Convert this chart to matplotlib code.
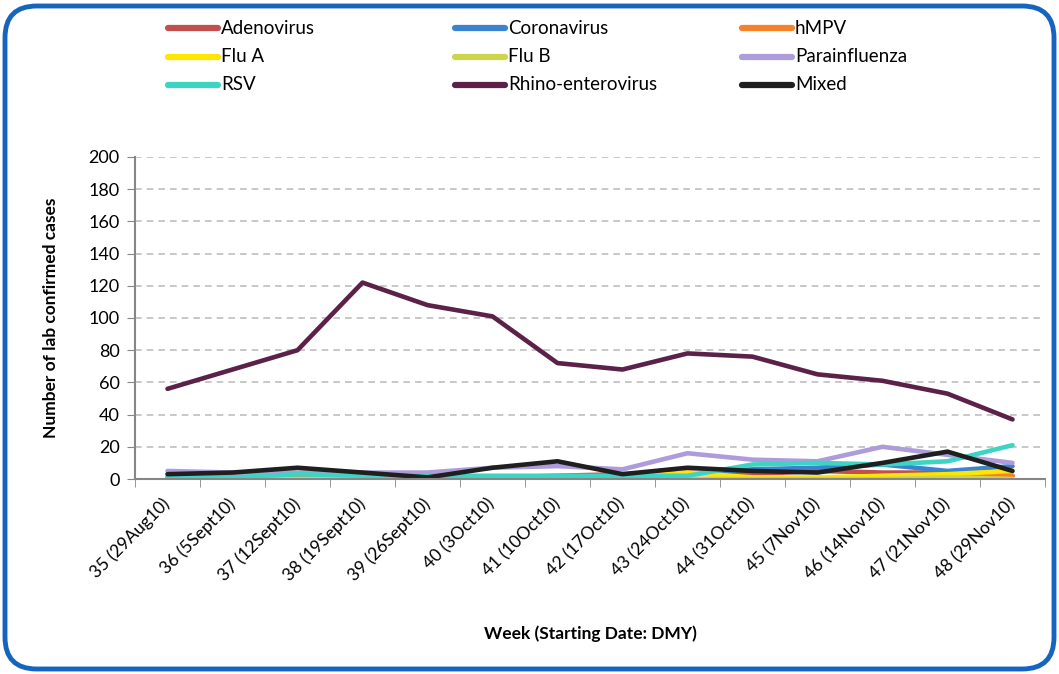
import matplotlib.pyplot as plt
import numpy as np
from matplotlib.patches import FancyBboxPatch
from matplotlib.lines import Line2D

plt.rcParams['font.family'] = ['Lato', 'DejaVu Sans']

weeks = ["35 (29Aug10)", "36 (5Sept10)", "37 (12Sept10)", "38 (19Sept10)",
         "39 (26Sept10)", "40 (3Oct10)", "41 (10Oct10)", "42 (17Oct10)",
         "43 (24Oct10)", "44 (31Oct10)", "45 (7Nov10)", "46 (14Nov10)",
         "47 (21Nov10)", "48 (29Nov10)"]

adenovirus = [1, 1, 1, 1, 0, 1, 2, 3, 4, 3, 5, 4, 4, 2]
coronavirus = [0, 0, 0, 0, 0, 0, 1, 1, 3, 6, 7, 9, 5, 8]
hmpv = [0, 0, 0, 0, 0, 0, 0, 0, 0, 0, 0, 0, 1, 2]
flu_a = [0, 0, 0, 0, 0, 0, 0, 1, 4, 1, 1, 2, 3, 5]
flu_b = [0, 0, 0, 0, 0, 0, 0, 0, 0, 0, 0, 0, 1, 0]
parainfluenza = [5, 4, 4, 4, 4, 7, 8, 6, 16, 12, 11, 20, 15, 10]
rsv = [1, 1, 3, 2, 2, 2, 2, 2, 2, 9, 10, 9, 11, 21]
rhino = [56, 68, 80, 122, 108, 101, 72, 68, 78, 76, 65, 61, 53, 37]
mixed = [3, 4, 7, 4, 1, 7, 11, 3, 7, 5, 4, 10, 17, 5]

names = ["Adenovirus", "Coronavirus", "hMPV", "Flu A", "Flu B",
         "Parainfluenza", "RSV", "Rhino-enterovirus", "Mixed"]
series = [adenovirus, coronavirus, hmpv, flu_a, flu_b,
          parainfluenza, rsv, rhino, mixed]
colors = ["#C0504D", "#3A84CF", "#F5822A", "#FFE600", "#CDD64A",
          "#AE9BDB", "#3CD5C4", "#5B2148", "#1F1F1F"]

W, H = 1059, 674
fig = plt.figure(figsize=(W / 100, H / 100), dpi=100)
ax = fig.add_axes([135 / W, 1 - 479 / H, 910 / W, 322 / H])

x = np.arange(len(weeks))
for vals, c in zip(series, colors):
    ax.plot(x, vals, color=c, lw=3.3, solid_capstyle='round', solid_joinstyle='round')

ax.set_xlim(-0.5, len(weeks) - 0.5)
ax.set_ylim(0, 200)
ax.set_yticks(np.arange(0, 201, 20))
ax.set_xticks(x)
ax.set_xticklabels(weeks, rotation=45, ha='right', va='center', rotation_mode='anchor', fontsize=12.5)
ax.set_xticks(np.arange(-0.5, len(weeks), 1), minor=True)
ax.tick_params(axis='x', which='major', length=0, pad=16)
ax.tick_params(axis='x', which='minor', length=6, color='#868686', direction='out')
ax.tick_params(axis='y', length=6, color='#868686', labelsize=13, pad=5)

ax.grid(axis='y', color='#BFBFBF', lw=1.2, linestyle=(0, (4, 3)))
ax.set_axisbelow(True)
for s in ['top', 'right']:
    ax.spines[s].set_visible(False)
for s in ['left', 'bottom']:
    ax.spines[s].set_color('#868686')
    ax.spines[s].set_linewidth(1.5)

ax.yaxis.set_label_coords(-76 / 910, 0.5)
ax.set_ylabel("Number of lab confirmed cases", fontsize=12.5, fontweight='bold')
fig.text(590 / W, 1 - 634 / H, "Week (Starting Date: DMY)", fontsize=12.5,
         fontweight='bold', ha='center', va='center')

# legend drawn by hand in three columns
col_x = [168, 455, 742]
row_y = [28, 57, 85]
for i, (name, c) in enumerate(zip(names, colors)):
    cx = col_x[i % 3]
    cy = 1 - row_y[i // 3] / H
    fig.add_artist(Line2D([cx / W, (cx + 50) / W], [cy, cy], color=c, lw=4.5,
                          solid_capstyle='round', transform=fig.transFigure))
    fig.text((cx + 53) / W, cy, name, fontsize=13.5, va='center', ha='left')

frame = FancyBboxPatch((5 / W, 5 / H), 1049 / W, 663 / H,
                       boxstyle="round,pad=0,rounding_size=0.03",
                       transform=fig.transFigure, fill=False,
                       edgecolor='#1565C0', lw=3.5, mutation_aspect=W / H)
fig.add_artist(frame)

plt.savefig("out.png", dpi=100)
